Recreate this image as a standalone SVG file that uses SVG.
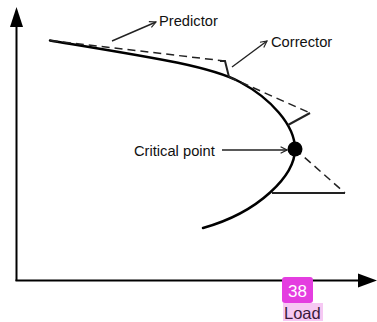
<svg xmlns="http://www.w3.org/2000/svg" width="377" height="322" viewBox="0 0 377 322">
<defs>
<style>
.lbl{font-family:"Liberation Sans",Arial,sans-serif;font-size:14.7px;fill:#111}
.axis{stroke:#000;stroke-width:2;fill:none}
.curve{stroke:#000;stroke-width:2.5;fill:none;stroke-linecap:round}
.pred{stroke:#222;stroke-width:1.5;fill:none;stroke-dasharray:8 5}
.corr{stroke:#222;stroke-width:2;fill:none}
.ptr{stroke:#222;stroke-width:1.4;fill:none}
</style>
<marker id="open" viewBox="0 0 10 10" refX="9" refY="5" markerWidth="8" markerHeight="8" markerUnits="userSpaceOnUse" orient="auto">
<path d="M1,1 L9,5 L1,9" fill="none" stroke="#222" stroke-width="1.4"/>
</marker>
</defs>
<rect width="377" height="322" fill="#fff"/>
<g id="axes">
<path class="axis" d="M16.5,281 V26"/>
<polygon points="10,27 23,27 16.5,7" fill="#000"/>
<path class="axis" d="M15.5,280.5 H359"/>
<polygon points="358,273.5 358,287.5 377,280.5" fill="#000"/>
</g>
<g id="curve">
<path class="curve" d="M50,40.5 C150,57 210,66 240,82 C270,98 295,125 295,149 C295,175 260,212 203,228"/>
</g>
<g id="connectors">
<path class="pred" d="M50,40.5 L225,61"/>
<path class="corr" d="M220,61 H225 L229,77"/>
<path class="pred" d="M229,77 L310,113"/>
<path class="corr" d="M310,113 L288,125"/>
<path class="pred" d="M295,149 L345,193"/>
<path class="corr" d="M345,193 H272"/>
<path class="ptr" d="M112,41 L156,22" marker-end="url(#open)"/>
<path class="ptr" d="M232,67 L267,41" marker-end="url(#open)"/>
<path class="ptr" d="M222,150 L287,150" marker-end="url(#open)"/>
</g>
<g id="critical-point">
<circle cx="295" cy="149" r="7.5" fill="#000"/>
</g>
<g id="label-predictor"><text class="lbl" x="159" y="26">Predictor</text></g>
<g id="label-corrector"><text class="lbl" x="271" y="47">Corrector</text></g>
<g id="label-critical"><text class="lbl" x="134" y="155.5">Critical point</text></g>
<g id="badge">
<rect x="282" y="277" width="31" height="26" rx="3" fill="#e43de0"/>
<text x="297.5" y="296.5" text-anchor="middle" style="font-family:'Liberation Sans',Arial,sans-serif;font-size:17px;fill:#fff">38</text>
<rect x="283" y="303" width="40" height="18" fill="#f6c8f3"/>
<text x="284" y="318.5" style="font-family:'Liberation Sans',Arial,sans-serif;font-size:16.5px;fill:#3a1a3a">Load</text>
</g>
</svg>
